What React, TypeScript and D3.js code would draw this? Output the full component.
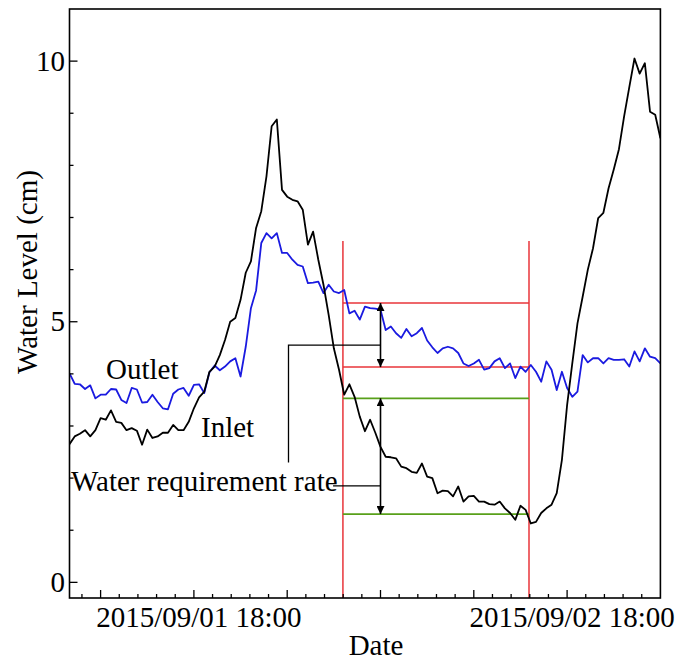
import React from 'react';
import * as d3 from 'd3';

// sampling of the logger record
const startTime = new Date(2015, 8, 1, 10, 0);
const endTime = new Date(2015, 8, 3, 0, 0);
const stepMinutes = 20;

// water level (cm), every 20 min from 2015/09/01 10:00
const inlet = [
  2.65, 2.8, 2.85, 2.92, 2.8, 2.92, 3.15, 3.12, 3.3, 3.08,
  3.06, 2.92, 2.96, 2.91, 2.64, 2.93, 2.77, 2.8, 2.87, 2.87,
  3.02, 2.92, 2.92, 3.08, 3.34, 3.55, 3.66, 4.04, 4.14, 4.36,
  4.65, 5.0, 5.07, 5.42, 5.94, 6.16, 6.8, 7.12, 7.79, 8.75,
  8.88, 7.53, 7.4, 7.34, 7.31, 7.15, 6.48, 6.73, 6.19, 5.71,
  5.13, 4.49, 4.08, 3.6, 3.8, 3.56, 3.18, 2.9, 3.12, 2.87,
  2.6, 2.41, 2.4, 2.38, 2.22, 2.19, 2.12, 2.1, 2.28, 2.03,
  2.0, 1.71, 1.76, 1.75, 1.65, 1.84, 1.55, 1.65, 1.66, 1.55,
  1.55, 1.5, 1.49, 1.55, 1.42, 1.33, 1.2, 1.47, 1.39, 1.13,
  1.16, 1.33, 1.42, 1.49, 1.71, 2.35, 3.4, 4.2, 4.97, 5.48,
  6.0, 6.41, 6.99, 7.09, 7.56, 7.92, 8.31, 8.94, 9.5, 10.05,
  9.76, 9.96, 9.03, 8.97, 8.52,
];

const outlet = [
  4.01, 3.81, 3.8, 3.71, 3.78, 3.53, 3.6, 3.6, 3.71, 3.7,
  3.5, 3.44, 3.73, 3.7, 3.45, 3.46, 3.6, 3.46, 3.34, 3.32,
  3.62, 3.7, 3.73, 3.58, 3.79, 3.8, 3.63, 4.03, 4.16, 4.07,
  4.14, 4.24, 4.3, 3.95, 4.52, 5.26, 5.6, 6.51, 6.7, 6.6,
  6.7, 6.32, 6.32, 6.19, 6.09, 6.06, 5.74, 5.75, 5.77, 5.55,
  5.71, 5.58, 5.55, 5.61, 5.16, 5.21, 5.04, 5.29, 5.26, 5.25,
  5.23, 4.84, 4.91, 4.78, 4.69, 4.86, 4.72, 4.78, 4.88, 4.64,
  4.51, 4.4, 4.49, 4.52, 4.49, 4.4, 4.2, 4.15, 4.2, 4.27,
  4.08, 4.11, 4.24, 4.3, 4.11, 4.2, 3.92, 4.14, 4.04, 4.17,
  4.04, 3.85, 4.24, 4.08, 3.69, 4.04, 3.73, 3.56, 3.66, 4.36,
  4.22, 4.3, 4.3, 4.2, 4.3, 4.27, 4.27, 4.28, 4.14, 4.43,
  4.24, 4.49, 4.33, 4.3, 4.2,
];

// evaluation period and reference levels
const periodTimes = [new Date(2015, 8, 2, 3, 35), new Date(2015, 8, 2, 15, 33)];
const periodTop = 6.55;
const outletLevels = [5.36, 4.13];
const inletLevels = [3.53, 1.31];
const arrowTime = new Date(2015, 8, 2, 6, 0);
const bracketTime = new Date(2015, 8, 2, 0, 5);
const bracketLevels = [4.55, 2.3];
const rateLineStart = new Date(2015, 8, 2, 2, 57);
const rateLevel = 1.85;

const yTicks = d3.range(0, 11);
const yLabels = [0, 5, 10];
const xTickStart = new Date(2015, 8, 1, 12, 0);
const xLabelTimes = [new Date(2015, 8, 1, 18, 0), new Date(2015, 8, 2, 18, 0)];

const W = 675;
const H = 661;
const left = 69.5;
const right = 660.4;
const top = 9;
const bottom = 598;
const font = "'Liberation Serif', 'Times New Roman', serif";
const red = '#e8343a';
const green = '#58a01a';

export default function App() {
  const x = d3.scaleTime().domain([startTime, endTime]).range([left, right]);
  const y = d3.scaleLinear().domain([-0.3, 11]).range([bottom, top]);
  const timeAt = (i: number) => d3.timeMinute.offset(startTime, i * stepMinutes);
  const line = d3
    .line<number>()
    .x((_, i) => x(timeAt(i)))
    .y((d) => y(d));

  // minor ticks every 72 min, major every 6 h
  const xTicks: { t: Date; major: boolean }[] = [];
  for (let k = -1; ; k++) {
    const t = d3.timeMinute.offset(xTickStart, k * 72);
    if (x(t) > right - 1) break;
    xTicks.push({ t, major: ((k % 5) + 5) % 5 === 0 });
  }
  const fmt = d3.timeFormat('%Y/%m/%d %H:%M');
  const ax = x(arrowTime);

  return (
    <svg width={W} height={H} style={{ position: 'absolute', left: 0, top: 0 }} fontFamily={font}>
      <defs>
        <clipPath id="plot">
          <rect x={left} y={top} width={right - left} height={bottom - top} />
        </clipPath>
        <marker
          id="ah"
          viewBox="0 0 10 10"
          refX={10}
          refY={5}
          markerWidth={8}
          markerHeight={8}
          markerUnits="userSpaceOnUse"
          preserveAspectRatio="none"
          orient="auto-start-reverse"
        >
          <path d="M0,0 L10,5 L0,10 z" fill="#000" />
        </marker>
      </defs>

      {/* period and levels */}
      {periodTimes.map((t, i) => (
        <line key={'pv' + i} x1={x(t)} x2={x(t)} y1={y(periodTop)} y2={bottom} stroke={red} strokeWidth={1.5} />
      ))}
      {outletLevels.map((v, i) => (
        <line key={'ol' + i} x1={x(periodTimes[0])} x2={x(periodTimes[1])} y1={y(v)} y2={y(v)} stroke={red} strokeWidth={1.5} />
      ))}
      {inletLevels.map((v, i) => (
        <line key={'il' + i} x1={x(periodTimes[0])} x2={x(periodTimes[1])} y1={y(v)} y2={y(v)} stroke={green} strokeWidth={1.8} />
      ))}

      <g clipPath="url(#plot)" fill="none" strokeWidth={1.8} strokeLinejoin="round">
        <path d={line(outlet) || ''} stroke="#1a1ae0" />
        <path d={line(inlet) || ''} stroke="#000" />
      </g>

      {/* arrows */}
      <line x1={ax} x2={ax} y1={y(outletLevels[0])} y2={y(outletLevels[1])} stroke="#000" strokeWidth={1.6}
        markerStart="url(#ah)" markerEnd="url(#ah)" />
      <line x1={ax} x2={ax} y1={y(inletLevels[0])} y2={y(inletLevels[1])} stroke="#000" strokeWidth={1.6}
        markerStart="url(#ah)" markerEnd="url(#ah)" />
      <polyline
        points={`${x(bracketTime)},${y(bracketLevels[1])} ${x(bracketTime)},${y(bracketLevels[0])} ${ax},${y(bracketLevels[0])}`}
        fill="none" stroke="#000" strokeWidth={1.3} />
      <line x1={x(rateLineStart)} x2={ax} y1={y(rateLevel)} y2={y(rateLevel)} stroke="#000" strokeWidth={1.3} />

      {/* frame */}
      <rect x={left} y={top} width={right - left} height={bottom - top} fill="none" stroke="#000" strokeWidth={1.6} />

      {/* y axis */}
      {yTicks.map((v) => {
        const major = yLabels.includes(v);
        return <line key={'yt' + v} x1={left} x2={left + (major ? 8 : 4)} y1={y(v)} y2={y(v)} stroke="#000" strokeWidth={1.3} />;
      })}
      {yLabels.map((v) => (
        <text key={'yl' + v} x={65} y={y(v)} dy="0.33em" textAnchor="end" fontSize={29}>
          {v}
        </text>
      ))}
      <text transform={`translate(37,272) rotate(-90)`} textAnchor="middle" fontSize={29}>
        Water Level (cm)
      </text>

      {/* x axis */}
      {xTicks.map((d, i) => (
        <line key={'xt' + i} x1={x(d.t)} x2={x(d.t)} y1={bottom} y2={bottom - (d.major ? 8 : 4)} stroke="#000" strokeWidth={1.3} />
      ))}
      {xLabelTimes.map((t, i) => (
        <text key={'xl' + i} x={x(t) + 5} y={627} textAnchor="middle" fontSize={29}>
          {fmt(t)}
        </text>
      ))}
      <text x={376} y={655} textAnchor="middle" fontSize={29}>
        Date
      </text>

      {/* labels */}
      <text x={106} y={379} fontSize={29}>Outlet</text>
      <text x={201} y={437} fontSize={29}>Inlet</text>
      <text x={71} y={491} fontSize={29}>Water requirement rate</text>
    </svg>
  );
}
